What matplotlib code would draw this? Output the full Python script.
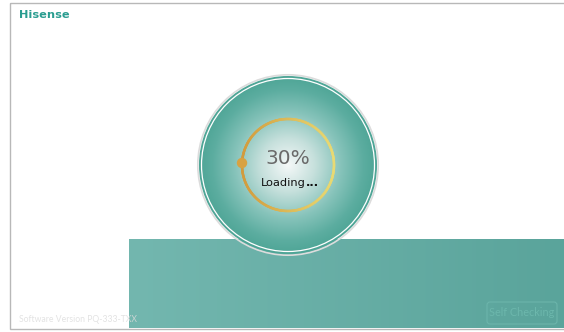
import numpy as np
import matplotlib.pyplot as plt
from matplotlib.patches import Circle, Rectangle, FancyBboxPatch
from matplotlib.collections import LineCollection
from matplotlib.colors import LinearSegmentedColormap

progress = 30
brand = "Hisense"
status = "Loading"
version = "Software Version PQ-333-TXX"
button = "Self Checking"

W, H = 564, 332
fig = plt.figure(figsize=(W / 100, H / 100), dpi=100)
ax = fig.add_axes([0, 0, 1, 1])
ax.set_xlim(0, W)
ax.set_ylim(H, 0)
ax.axis('off')

# frame
ax.add_patch(Rectangle((10, 3), 560, 326, fill=False, ec='#b8b8b8', lw=1.0))

ax.text(19, 15, brand, color='#2a9d90', fontsize=8.2, fontweight='bold',
        va='center', ha='left', family='DejaVu Sans')

# teal panel with horizontal gradient
panel = np.linspace(0, 1, 200).reshape(1, -1)
panel_cmap = LinearSegmentedColormap.from_list('p', ['#73b7af', '#5aa49b'])
ax.imshow(panel, cmap=panel_cmap, extent=[129, 564, 328, 239], aspect='auto',
          zorder=2, interpolation='bicubic')
ax.add_patch(FancyBboxPatch((487, 302), 70, 22, boxstyle='round,pad=0,rounding_size=3',
                            fill=False, ec='#6cb5ab', lw=0.8, zorder=3))
ax.text(522, 313, button, color='#6cb7ac', fontsize=7.8, ha='center', va='center',
        family='Lato', zorder=3)

# version text sits above the panel edge
ax.text(19, 320, version, color='#dcdcdc', alpha=0.8, fontsize=6.2, va='center',
        ha='left', family='Lato', zorder=3)

# big circle
cx, cy, R = 288, 165, 89
ax.add_patch(Circle((cx, cy), R + 1.2, fc='none', ec='#dcdcdc', lw=1.2, zorder=4))
n = 400
xs = np.linspace(cx - R, cx + R, n)
ys = np.linspace(cy - R, cy + R, n)
X, Y = np.meshgrid(xs, ys)
d = np.clip(np.hypot(X - cx, Y - cy) / R, 0, 1)
grad_cmap = LinearSegmentedColormap.from_list(
    'g', [(0, '#f4f8f8'), (0.3, '#c6e0dc'), (0.6, '#86c3ba'), (0.85, '#5cada0'), (1, '#4ea596')])
im = ax.imshow(d, cmap=grad_cmap, extent=[cx - R, cx + R, cy + R, cy - R],
               zorder=5, interpolation='bilinear')
clip = Circle((cx, cy), R, transform=ax.transData)
im.set_clip_path(clip)
ax.add_patch(Circle((cx, cy), R - 2.5, fc='none', ec='white', lw=0.9, zorder=6))

# progress ring with gradient
r = 46
th = np.linspace(0, 2 * np.pi, 361)
px = cx + r * np.cos(th)
py = cy + r * np.sin(th)
pts = np.column_stack([px, py]).reshape(-1, 1, 2)
segs = np.concatenate([pts[:-1], pts[1:]], axis=1)
ring_cmap = LinearSegmentedColormap.from_list('r', ['#e8da74', '#d29b3d'])
tval = (1 - np.cos(th[:-1])) / 2
lc = LineCollection(segs, colors=ring_cmap(tval), linewidths=1.8, zorder=7,
                    capstyle='round')
ax.add_collection(lc)
ax.add_patch(Circle((cx - r, cy - 2), 5.2, fc='#d8a242', ec='none', zorder=8))

ax.text(cx, cy - 7, f"{progress}%", color='#6a6a6a', fontsize=14.5, ha='center',
        va='center', zorder=9)
ax.text(cx + 18, cy + 18, status, color='#111111', fontsize=8.2, ha='right',
        va='center', zorder=9)
ax.text(cx + 18, cy + 18, "...", color='#111111', fontsize=8.2, fontweight='bold',
        ha='left', va='center', zorder=9)

fig.savefig('out.png', dpi=100)
